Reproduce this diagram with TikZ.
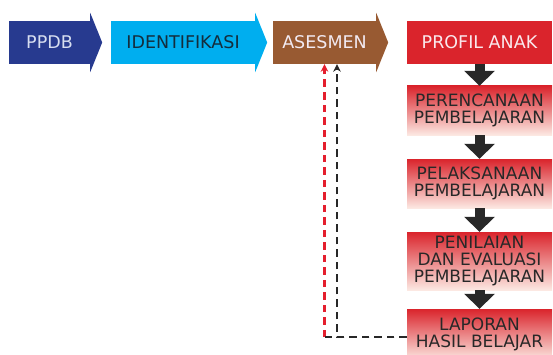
\documentclass[tikz,border=0pt]{standalone}
\usepackage{fontspec}
\setmainfont{DejaVu Sans}
\usetikzlibrary{arrows.meta,positioning,calc}
\definecolor{navy}{RGB}{39,58,143}
\definecolor{sky}{RGB}{0,174,239}
\definecolor{bark}{RGB}{152,90,50}
\definecolor{scarlet}{RGB}{218,36,44}
\definecolor{blush}{RGB}{252,232,226}
\definecolor{ink}{RGB}{40,40,40}
\definecolor{alert}{RGB}{228,30,45}
\definecolor{navytext}{RGB}{215,222,240}
\definecolor{skytext}{RGB}{20,45,60}
\definecolor{barktext}{RGB}{242,234,242}
\definecolor{scarlettext}{RGB}{250,232,236}
\tikzset{
  stage/.style={fill=#1,text=#1text,minimum height=43pt,inner sep=0pt,
    font=\fontsize{17.5}{17.5}\selectfont},
  phase/.style={top color=scarlet,middle color=scarlet!62!blush,bottom color=blush,
    text=ink,minimum width=145pt,inner sep=0pt,align=center,
    font=\fontsize{17}{17}\selectfont},
  down/.style={line width=10pt,draw=ink,-{Triangle[width=30pt,length=15pt]}},
  backline/.style={dash pattern=on 7.5pt off 5pt,line width=2.6pt,draw=#1},
  backline/.default=ink,
  back/.style={backline=#1,-{Stealth[length=7.5pt,width=7.5pt]}},
  back/.default=ink,
}
\begin{document}
\begin{tikzpicture}[x=1pt,y=1pt]
  \useasboundingbox (0,0) rectangle (553,354);
  \node[stage=navy,minimum width=81pt] (ppdb) at (49.5,311.5) {PPDB};
  \node[stage=sky,minimum width=144pt] (iden) at (183,311.5) {IDENTIFIKASI};
  \node[stage=bark,minimum width=103pt] (ases) at (324.5,311.5) {ASESMEN};
  \foreach \n/\c in {ppdb/navy,iden/sky,ases/bark}
    \fill[\c] (\n.north east) -- ++(0,8) -- ($(\n.east)+(12,0)$)
      -- ($(\n.south east)+(0,-8)$) -- (\n.south east) -- cycle;
  \node[stage=scarlet,minimum width=145pt] (prof) at (479.5,311.5) {PROFIL ANAK};
  \node[phase,minimum height=49pt] (plan) at (479.5,243.5) {PERENCANAAN\\PEMBELAJARAN};
  \node[phase,minimum height=49pt] (exec) at (479.5,170.5) {PELAKSANAAN\\PEMBELAJARAN};
  \node[phase,minimum height=58pt] (eval) at (479.5,93) {PENILAIAN\\DAN EVALUASI\\PEMBELAJARAN};
  \node[phase,minimum height=51pt] (report) at (479.5,19.5) {LAPORAN\\HASIL BELAJAR};
  \foreach \a/\b in {prof/plan,plan/exec,exec/eval,eval/report}
    \draw[down] (\a) -- (\b);
  \coordinate (foot) at ([yshift=-2.5pt]report.west);
  \coordinate (bend) at (foot -| ases.south);
  \draw[back] (foot) -| ([xshift=12.5pt]ases.south);
  \draw[back=alert] (bend) -- (ases.south);
  \draw[backline] (foot) -- (bend);
\end{tikzpicture}
\end{document}
